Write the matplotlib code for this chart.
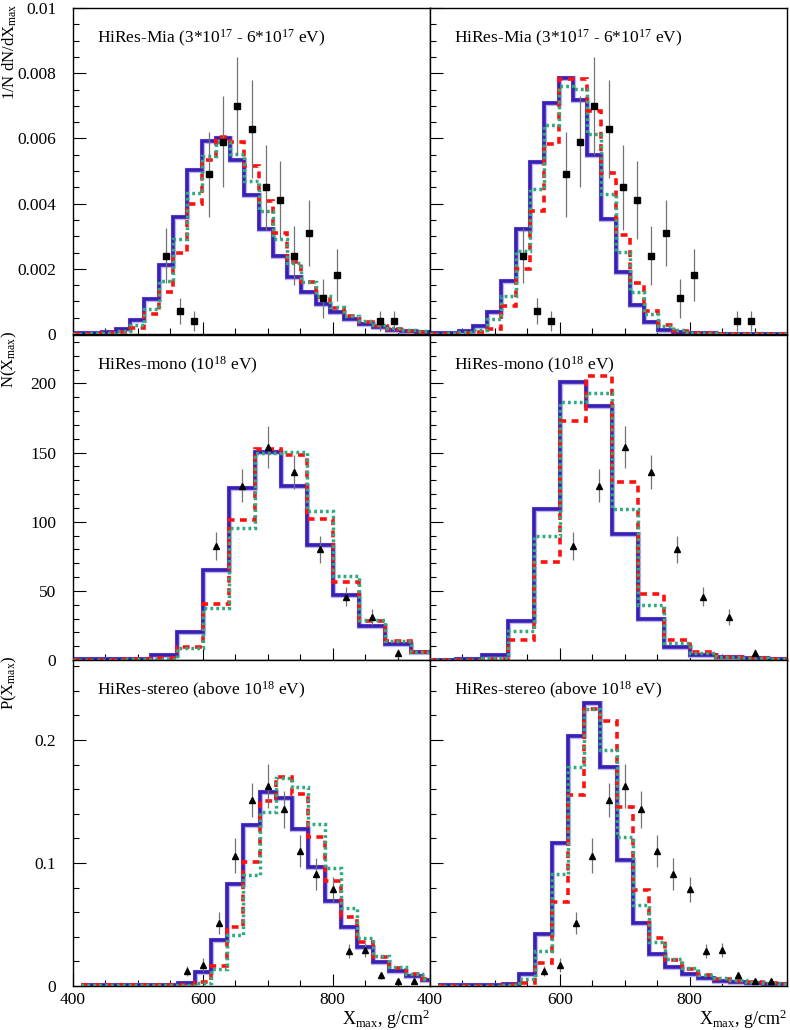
import numpy as np
import matplotlib
matplotlib.use('Agg')
import matplotlib.pyplot as plt
import matplotlib.patheffects as pe
from matplotlib.ticker import MultipleLocator, FuncFormatter

plt.rcParams['font.family'] = ['Liberation Serif', 'DejaVu Serif']
plt.rcParams['mathtext.fontset'] = 'custom'
plt.rcParams['mathtext.rm'] = 'Liberation Serif'
plt.rcParams['mathtext.it'] = 'Liberation Serif:italic'

# bin edges (g/cm^2)
edges_mia = np.arange(400, 951, 22)
edges_mono = np.arange(400, 961, 40)
edges_stereo = np.arange(412.5, 963, 25)

# HiRes-Mia (3*10^17 - 6*10^17 eV)
mia_x = [543, 565, 587, 609, 631, 653, 675, 697, 719, 741, 763, 785, 807, 873, 895]
mia_y = [0.0024, 0.0007, 0.0004, 0.0049, 0.0059, 0.0070, 0.0063, 0.0045, 0.0041, 0.0024,
         0.0031, 0.0011, 0.0018, 0.0004, 0.0004]
mia_err = [0.00085, 0.0004, 0.0003, 0.0013, 0.0014, 0.0015, 0.0015, 0.0013, 0.0012, 0.0009,
           0.001, 0.0006, 0.0008, 0.0003, 0.0003]

mia_blue_L = [0.00003, 0.00003, 0.00005, 0.00015, 0.00044, 0.00106, 0.00213, 0.0036, 0.00503,
              0.00593, 0.0060, 0.00533, 0.00426, 0.00321, 0.00239, 0.00174, 0.00128, 0.00093,
              0.00069, 0.00046, 0.00032, 0.00022, 0.00013, 0.00008, 0.00006]
mia_red_L = [0.00001, 0.00001, 0.00002, 0.00006, 0.00018, 0.0006, 0.00128, 0.00249, 0.00398,
             0.00533, 0.00603, 0.0059, 0.00516, 0.00408, 0.00311, 0.0022, 0.00159, 0.00113,
             0.0008, 0.00054, 0.00037, 0.00026, 0.00016, 0.0001, 0.00007]
mia_green_L = [0.00001, 0.00002, 0.00004, 0.0001, 0.00029, 0.00077, 0.00162, 0.00292, 0.00434,
               0.00547, 0.00588, 0.00552, 0.0047, 0.00377, 0.00292, 0.00218, 0.00159, 0.00116,
               0.00083, 0.00056, 0.00039, 0.00027, 0.00018, 0.00011, 0.00008]

mia_blue_R = [0.00003, 0.00004, 0.00008, 0.00024, 0.00067, 0.00162, 0.00323, 0.00529, 0.00709,
              0.00786, 0.00719, 0.00549, 0.00352, 0.0019, 0.0009, 0.00036, 0.00013, 0.00007,
              0.00003, 0.00002, 0.00001, 0.00001, 0.00001, 0.00001, 0.00001]
mia_red_R = [0.00001, 0.00001, 0.00003, 0.00005, 0.00015, 0.00087, 0.002, 0.00378, 0.00583,
             0.00783, 0.00783, 0.00683, 0.00495, 0.00305, 0.00157, 0.0007, 0.00029, 0.0001,
             0.00004, 0.00002, 0.00001, 0.00001, 0.00001, 0.00001, 0.00001]
mia_green_R = [0.00001, 0.00002, 0.00005, 0.00012, 0.00046, 0.00118, 0.00254, 0.00446, 0.00641,
               0.00762, 0.00752, 0.00615, 0.00429, 0.00251, 0.00128, 0.0006, 0.00026, 0.00011,
               0.00004, 0.00002, 0.00001, 0.00001, 0.00001, 0.00001, 0.00001]

# HiRes-mono (10^18 eV)
mono_x = [620, 660, 700, 740, 780, 820, 860, 900]
mono_y = [82.5, 126, 154, 136, 80, 45.7, 31, 4.8]
mono_err = [10, 12, 15, 12, 10, 7, 6, 3]

mono_blue_L = [0.5, 0.5, 1.0, 3.6, 20.4, 65, 124.5, 150.2, 125.7, 83, 47, 24.8, 11.3, 6]
mono_red_L = [0.2, 0.3, 0.5, 1.2, 9.1, 40.6, 101, 152.6, 148.3, 102, 56.5, 28, 13.7, 6]
mono_green_L = [0.2, 0.3, 0.5, 0.7, 9, 37.7, 95.7, 150, 150.2, 108, 61, 29, 14, 6]

mono_blue_R = [0.3, 0.5, 3.6, 28, 109, 201, 184, 91, 29.6, 9.6, 3.6, 1.9, 1.2, 0.5]
mono_red_R = [0.1, 0.2, 0.7, 14.4, 71, 172.6, 205.5, 128.6, 48, 14.4, 5.5, 2.4, 1.2, 0.5]
mono_green_R = [0.1, 0.3, 1.7, 21, 89.7, 186.8, 193, 109, 40, 12, 4.8, 2.4, 1.2, 0.5]

# HiRes-stereo (above 10^18 eV)
stereo_x = [575, 600, 625, 650, 675, 700, 725, 750, 775, 800, 825, 850, 875, 900, 925]
stereo_y = [0.0125, 0.017, 0.051, 0.106, 0.151, 0.1626, 0.1436, 0.110, 0.0908, 0.0786,
            0.0285, 0.0293, 0.0087, 0.004, 0.004]
stereo_err = [0.004, 0.006, 0.009, 0.014, 0.014, 0.018, 0.015, 0.013, 0.013, 0.010,
              0.0055, 0.0058, 0.003, 0.002, 0.002]

stereo_blue_L = [0.0008, 0.0008, 0.0008, 0.0008, 0.0008, 0.0008, 0.0027, 0.0117, 0.0374, 0.0827,
                 0.131, 0.1575, 0.153, 0.128, 0.097, 0.0694, 0.0477, 0.0314, 0.0198, 0.0122,
                 0.0081, 0.0049]
stereo_red_L = [0.0005, 0.0005, 0.0005, 0.0005, 0.0005, 0.0005, 0.0008, 0.0033, 0.0165, 0.048,
                0.101, 0.15, 0.17, 0.156, 0.121, 0.085, 0.056, 0.036, 0.0233, 0.0144,
                0.0095, 0.0054]
stereo_green_L = [0.0005, 0.0005, 0.0005, 0.0005, 0.0005, 0.0005, 0.0008, 0.0022, 0.0136, 0.0415,
                  0.09, 0.1417, 0.169, 0.162, 0.132, 0.0957, 0.063, 0.039, 0.0244, 0.0152,
                  0.0098, 0.0057]

stereo_blue_R = [0.0008, 0.0008, 0.0008, 0.0008, 0.0016, 0.0095, 0.0423, 0.1165, 0.2033, 0.2304,
                 0.178, 0.1024, 0.051, 0.026, 0.0152, 0.0098, 0.0068, 0.0043, 0.003, 0.0022,
                 0.0016, 0.0014]
stereo_red_R = [0.0003, 0.0003, 0.0003, 0.0003, 0.0005, 0.0027, 0.019, 0.0686, 0.155, 0.225,
                0.2154, 0.1458, 0.078, 0.0387, 0.0211, 0.0136, 0.0089, 0.0057, 0.004, 0.003,
                0.0022, 0.0016]
stereo_green_R = [0.0003, 0.0003, 0.0003, 0.0003, 0.0008, 0.0054, 0.0287, 0.0908, 0.1778, 0.225,
                  0.1919, 0.1214, 0.0659, 0.036, 0.0217, 0.0144, 0.0089, 0.0062, 0.0045, 0.0033,
                  0.0025, 0.0018]

titles = [r'HiRes-Mia (3*10$^{17}$ - 6*10$^{17}$ eV)',
          r'HiRes-mono (10$^{18}$ eV)',
          r'HiRes-stereo (above 10$^{18}$ eV)']
ylabels = [r'1/N dN/dX$_{\rm max}$', r'N(X$_{\rm max}$)', r'P(X$_{\rm max}$)']

BLUE = '#3a1fb5'
RED = '#ff1010'
GREEN = '#2fa97f'

W, H = 790, 1030
col_x = [73, 430]
col_w = 357
rows = [(8, 334), (335, 660), (660, 986)]

fig = plt.figure(figsize=(W / 100, H / 100), dpi=100)

panels = [
    (edges_mia, [(mia_blue_L, mia_red_L, mia_green_L), (mia_blue_R, mia_red_R, mia_green_R)],
     mia_x, mia_y, mia_err, 's', 0.01, 0.002, 0.0005),
    (edges_mono, [(mono_blue_L, mono_red_L, mono_green_L), (mono_blue_R, mono_red_R, mono_green_R)],
     mono_x, mono_y, mono_err, '^', 235, 50, 10),
    (edges_stereo, [(stereo_blue_L, stereo_red_L, stereo_green_L),
                    (stereo_blue_R, stereo_red_R, stereo_green_R)],
     stereo_x, stereo_y, stereo_err, '^', 0.265, 0.1, 0.02),
]

fmt = FuncFormatter(lambda v, p: '%g' % v)

for r, (edges, hists, dx, dy, de, mk, ymax, ymaj, ymin) in enumerate(panels):
    top, bot = rows[r]
    for c in range(2):
        ax = fig.add_axes([col_x[c] / W, 1 - bot / H, col_w / W, (bot - top) / H])
        blue, red, green = hists[c]
        ax.stairs(blue, edges, baseline=None, color=BLUE, lw=2.6, zorder=2,
                  path_effects=[pe.Stroke(linewidth=3.8, foreground='#bdb5ee'), pe.Normal()])
        ax.stairs(red, edges, baseline=None, color=RED, lw=2.6, zorder=3,
                  linestyle=(0, (1.9, 1.5)))
        ax.stairs(green, edges, baseline=None, color=GREEN, lw=2.5, zorder=4,
                  linestyle=(0, (0.8, 0.9)))
        ax.errorbar(dx, dy, yerr=de, fmt='none', ecolor='0.45', elinewidth=0.9, zorder=5)
        ax.plot(dx, dy, mk, color='k', ms=4.2, zorder=6)

        ax.set_xlim(400, 950)
        ax.set_ylim(0, ymax)
        ax.xaxis.set_major_locator(MultipleLocator(200))
        ax.xaxis.set_minor_locator(MultipleLocator(50))
        ax.yaxis.set_major_locator(MultipleLocator(ymaj))
        ax.yaxis.set_minor_locator(MultipleLocator(ymin))
        ax.yaxis.set_major_formatter(fmt)
        ax.tick_params(which='both', direction='in', top=False, right=False,
                       labelsize=12.5, width=0.8)
        ax.tick_params(which='major', length=9)
        ax.tick_params(which='minor', length=4.5)
        ax.tick_params(axis='y', pad=12)
        ax.tick_params(axis='x', pad=4)
        for s in ax.spines.values():
            s.set_linewidth(1.0)
        if c == 1:
            ax.tick_params(labelleft=False)
        else:
            ax.text(-0.178, 1.012, ylabels[r], rotation=90, ha='center', va='top',
                    transform=ax.transAxes, fontsize=12)
        if r < 2:
            ax.tick_params(labelbottom=False)
        else:
            ax.text(1.0, -0.066, r'X$_{\rm max}$, g/cm$^{2}$', ha='right', va='top',
                    transform=ax.transAxes, fontsize=13)
        ax.text(0.066, 0.893, titles[r], transform=ax.transAxes, fontsize=12.5,
                ha='left', va='baseline')

fig.savefig('out.png', dpi=100)
